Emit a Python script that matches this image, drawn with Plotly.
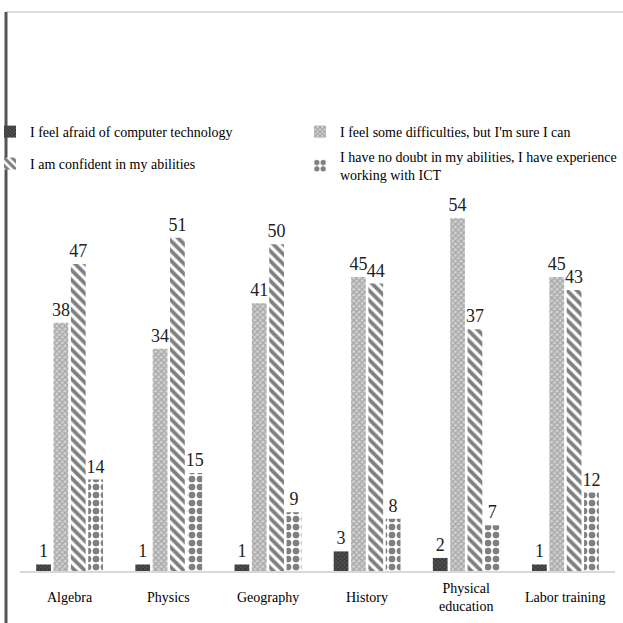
import plotly.graph_objects as go

categories = ["Algebra", "Physics", "Geography", "History", "Physical<br>education", "Labor training"]
series_names = [
    "I feel afraid of computer technology",
    "I feel some difficulties, but I'm sure I can",
    "I am confident in my abilities",
    "I have no doubt in my abilities, I have experience<br>working with ICT",
]
afraid = [1, 1, 1, 3, 2, 1]
difficulties = [38, 34, 41, 45, 54, 45]
confident = [47, 51, 50, 44, 37, 43]
no_doubt = [14, 15, 9, 8, 7, 12]

values = [afraid, difficulties, confident, no_doubt]
patterns = [
    dict(shape="x", fgcolor="#111111", bgcolor="#555555", size=3, solidity=0.5),
    dict(shape="x", fgcolor="#7a7a7a", bgcolor="#d4d4d4", size=4, solidity=0.6),
    dict(shape="\\", fgcolor="#000000", bgcolor="#ffffff", size=7, solidity=0.55),
    dict(shape=".", fgcolor="#000000", bgcolor="#ffffff", size=8, solidity=0.55),
]

W, H = 623, 623
L, R, T, B = 20, 8, 179, 52
plot_h = H - T - B


def py(ypx):
    return (H - B - ypx) / plot_h


def px(xpx):
    return (xpx - L) / (W - L - R)


legend_ids = ["legend", "legend2", "legend3", "legend4"]
legend_pos = [(-10, 116), (300, 116), (-10, 148), (300, 141)]

fig = go.Figure()
for name, vals, pat, lid in zip(series_names, values, patterns, legend_ids):
    fig.add_trace(go.Bar(
        x=categories, y=vals, name=name, legend=lid,
        marker=dict(color="#ffffff", line=dict(width=0), pattern=pat),
        text=vals, textposition="outside", constraintext="none", cliponaxis=False,
        textfont=dict(family="Liberation Serif", size=18, color="#222222"),
    ))

legends = {}
for lid, (lx, ly) in zip(legend_ids, legend_pos):
    legends[lid] = dict(
        x=px(lx), xanchor="left", y=py(ly), yanchor="top",
        font=dict(family="Liberation Serif", size=14, color="#000000"),
        itemwidth=30, bgcolor="rgba(0,0,0,0)",
    )

annotations = [
    dict(x=cat, xref="x", y=py(597), yref="paper", text=cat, showarrow=False,
         xanchor="center", yanchor="middle",
         font=dict(family="Liberation Serif", size=14, color="#000000"))
    for cat in categories
]

fig.update_layout(
    width=W, height=H,
    margin=dict(l=L, r=R, t=T, b=B, autoexpand=False),
    paper_bgcolor="white", plot_bgcolor="white",
    barmode="group", bargap=0.3, bargroupgap=0.15,
    font=dict(family="Liberation Serif", size=14, color="#000000"),
    showlegend=True,
    xaxis=dict(
        showline=True, linecolor="#d9d9d9", linewidth=2, ticks="",
        showgrid=False, showticklabels=False,
    ),
    yaxis=dict(range=[0, 60], visible=False, showgrid=False),
    annotations=annotations,
    shapes=[
        dict(type="line", xref="paper", yref="paper", x0=px(6), x1=px(623),
             y0=py(12), y1=py(12), line=dict(color="#dddddd", width=2)),
        dict(type="line", xref="paper", yref="paper", x0=px(6), x1=px(6),
             y0=py(12), y1=py(623), line=dict(color="#555555", width=3)),
    ],
    **legends,
)

fig.write_html(
    "out.html",
    config={"displayModeBar": False},
    post_script="document.body.style.margin='0px';document.body.style.overflow='hidden';",
)
